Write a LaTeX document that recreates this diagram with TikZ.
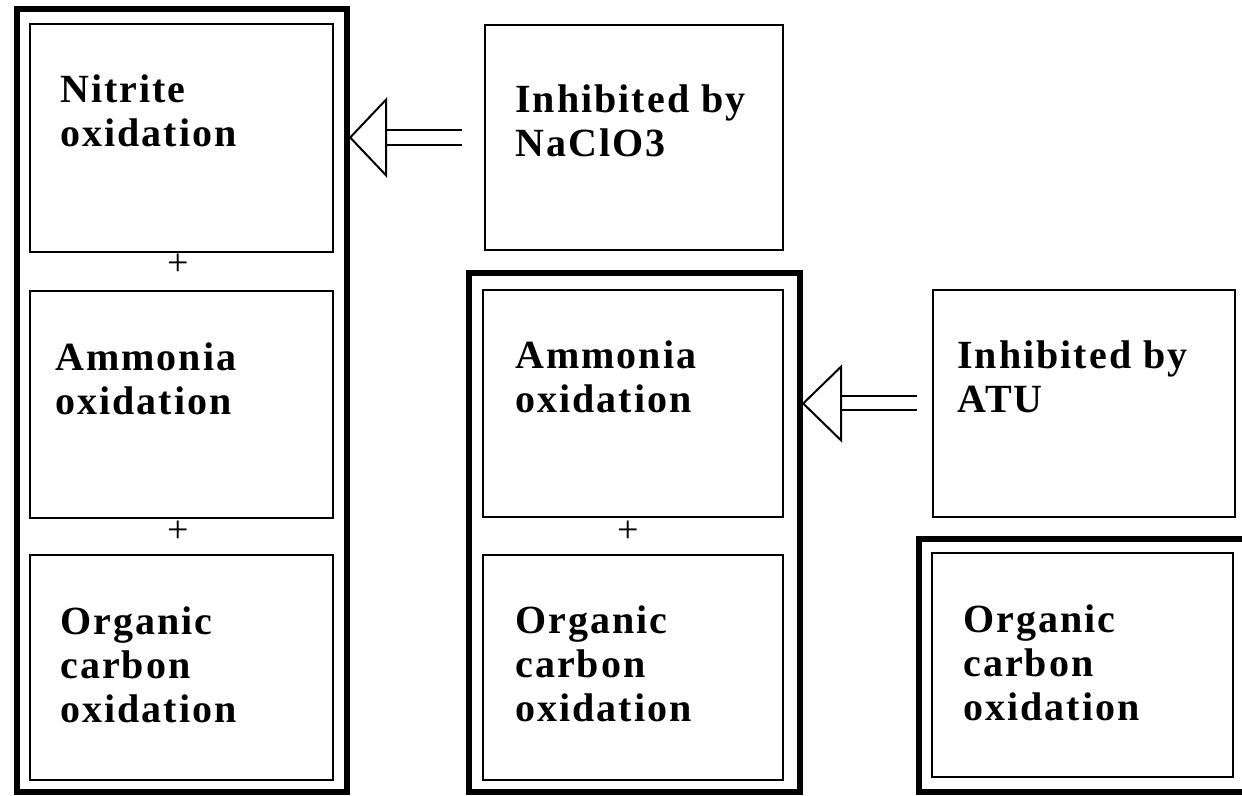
\documentclass[tikz,border=0pt]{standalone}
\usepackage{fontspec}
\setmainfont{Liberation Serif}
\newfontfamily\lblfont[LetterSpace=5]{Liberation Serif}
\usetikzlibrary{fit,calc}
\tikzset{
 inbox/.style={draw, line width=1.2pt, inner sep=0pt},
 outbox/.style={draw, line width=3.2pt, inner sep=0pt},
 lbl/.style={anchor=base west, inner sep=0pt, align=left, font=\lblfont\bfseries\fontsize{20}{22}\selectfont},
 plussign/.style={inner sep=0pt, font=\fontsize{19}{19}\selectfont},
 arr/.style={line width=1pt, line join=miter},
}
\begin{document}
\begin{tikzpicture}[x=0.5pt,y=-0.5pt]
\useasboundingbox (0,0) rectangle (1242,796);
\fill[white] (0,0) rectangle (1242,796);
\begin{scope}
\clip (0,0) rectangle (1242,796);
% outer boxes
\node[outbox, fit={(17,9) (347,792)}] (Lo) {};
\node[outbox, fit={(469,273) (800,792)}] (Mo) {};
\node[outbox, fit={(919,539) (1300,792)}] (Ro) {};
% inner boxes
\node[inbox, fit={(30,24) (333,252)}] (L1) {};
\node[inbox, fit={(30,291) (333,518)}] (L2) {};
\node[inbox, fit={(30,555) (333,780)}] (L3) {};
\node[inbox, fit={(485,25) (783,250)}] (N) {};
\node[inbox, fit={(483,290) (783,517)}] (M2) {};
\node[inbox, fit={(483,555) (783,780)}] (M3) {};
\node[inbox, fit={(933,290) (1235,517)}] (A) {};
\node[inbox, fit={(932,553) (1233,777)}] (R3) {};
\end{scope}
% labels (anchored at the baseline of the last line)
\node[lbl] (tL1) at (60,147) {Nitrite\\oxidation};
\node[lbl] (tL2) at (55,415) {Ammonia\\oxidation};
\node[lbl] (tL3) at (60,722) {Organic\\carbon\\oxidation};
\node[lbl] (tN) at (515,157) {Inhibited by\\NaClO3};
\node[lbl] (tM2) at (515,413) {Ammonia\\oxidation};
\node[lbl] (tM3) at (515,721) {Organic\\carbon\\oxidation};
\node[lbl] (tA) at (957,413) {Inhibited by\\ATU};
\node[lbl] (tR3) at (963,720) {Organic\\carbon\\oxidation};
% plus signs
\node[plussign] (p1) at (178,265) {+};
\node[plussign] (p2) at (178,532) {+};
\node[plussign] (p3) at (628,532) {+};
% arrows
\coordinate (a1s) at ($(N.west)+(-22,0)$);
\coordinate (a1t) at (Lo.east |- a1s);
\draw[arr] (a1t) -- ++(36,-38) -- ++(0,76) -- cycle;
\draw[arr] ($(a1t)+(36,-7.5)$) -- ($(a1s)+(0,-7.5)$);
\draw[arr] ($(a1t)+(36,7.5)$) -- ($(a1s)+(0,7.5)$);
\coordinate (a2s) at ($(A.west)+(-15,0)$);
\coordinate (a2t) at (Mo.east |- a2s);
\draw[arr] (a2t) -- ++(38,-37) -- ++(0,74) -- cycle;
\draw[arr] ($(a2t)+(38,-7)$) -- ($(a2s)+(0,-7)$);
\draw[arr] ($(a2t)+(38,7)$) -- ($(a2s)+(0,7)$);
\end{tikzpicture}
\end{document}
